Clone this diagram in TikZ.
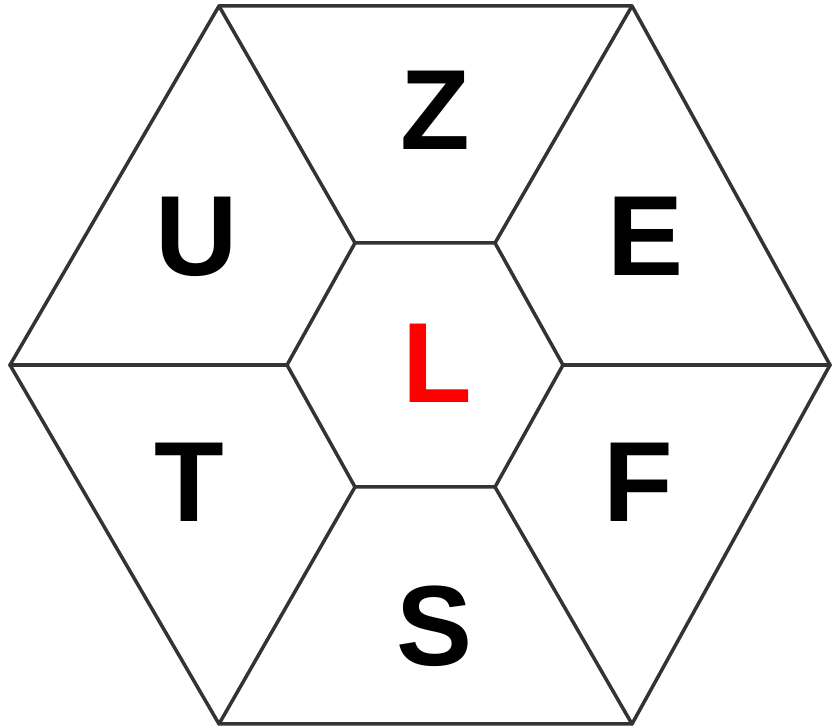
\documentclass[tikz,border=0pt]{standalone}
\usepackage{fontspec}
\setmainfont{Liberation Sans}
\begin{document}
\begin{tikzpicture}[x=1pt,y=1pt,
  edge/.style={draw=black!80,line width=3.5pt,line join=round,line cap=round},
  letter/.style={anchor=base,inner sep=0pt,font=\fontsize{114}{114}\selectfont\bfseries}]
\useasboundingbox (0,0) rectangle (832,727);
% outer vertices
\coordinate (O1) at (219,721);
\coordinate (O2) at (632,721);
\coordinate (O3) at (830,362);
\coordinate (O4) at (632,3);
\coordinate (O5) at (219,3);
\coordinate (O6) at (10,362);
% inner vertices
\coordinate (I1) at (355,484);
\coordinate (I2) at (495,484);
\coordinate (I3) at (563,362);
\coordinate (I4) at (495,240);
\coordinate (I5) at (355,240);
\coordinate (I6) at (287,362);
\draw[edge] (O1) -- (O2) -- (O3) -- (O4) -- (O5) -- (O6) -- cycle;
\draw[edge] (I1) -- (I2) -- (I3) -- (I4) -- (I5) -- (I6) -- cycle;
\draw[edge] (O1) -- (I1);
\draw[edge] (O2) -- (I2);
\draw[edge] (O3) -- (I3);
\draw[edge] (O4) -- (I4);
\draw[edge] (O5) -- (I5);
\draw[edge] (O6) -- (I6);
\node[letter] (z) at (435,577) {Z};
\node[letter] (e) at (646,451) {E};
\node[letter] (u) at (197,451) {U};
\node[letter,text=red] (l) at (437,324) {L};
\node[letter] (t) at (189,205) {T};
\node[letter] (f) at (638,205) {F};
\node[letter] (s) at (435,61) {S};
\end{tikzpicture}
\end{document}
